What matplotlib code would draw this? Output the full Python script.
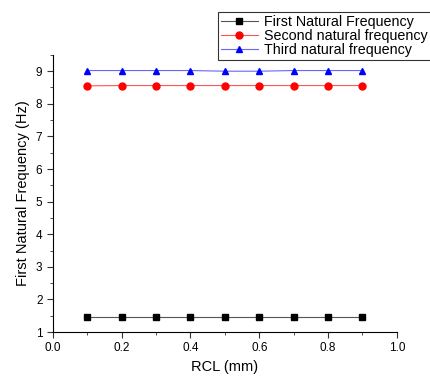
import numpy as np
import matplotlib.pyplot as plt
from matplotlib.ticker import MultipleLocator

plt.rcParams['font.family'] = ['Liberation Sans', 'DejaVu Sans']

rcl = [0.1, 0.2, 0.3, 0.4, 0.5, 0.6, 0.7, 0.8, 0.9]
first = [1.45, 1.45, 1.45, 1.45, 1.45, 1.45, 1.45, 1.45, 1.45]
second = [8.55, 8.56, 8.56, 8.56, 8.56, 8.56, 8.56, 8.56, 8.56]
third = [9.02, 9.02, 9.02, 9.02, 9.0, 9.0, 9.02, 9.02, 9.02]

fig = plt.figure(figsize=(4.3, 3.76), dpi=100)
ax = fig.add_axes([0.123, 0.117, 0.8, 0.737])

ax.plot(rcl, first, color='#555555', lw=0.8, marker='s', ms=4.5,
        mfc='black', mec='black', label='First Natural Frequency')
ax.plot(rcl, second, color='#ff5555', lw=0.8, marker='o', ms=5,
        mfc='red', mec='red', label='Second natural frequency')
ax.plot(rcl, third, color='#6666ff', lw=0.8, marker='^', ms=5,
        mfc='blue', mec='blue', label='Third natural frequency')

ax.set_xlim(0, 1.0)
ax.set_ylim(1, 9.5)
ax.xaxis.set_major_locator(MultipleLocator(0.2))
ax.xaxis.set_minor_locator(MultipleLocator(0.1))
ax.yaxis.set_major_locator(MultipleLocator(1))
ax.yaxis.set_minor_locator(MultipleLocator(0.5))
ax.set_xticks([0.0, 0.2, 0.4, 0.6, 0.8, 1.0])
ax.set_xticklabels(['0.0', '0.2', '0.4', '0.6', '0.8', '1.0'])

for s in ['top', 'right']:
    ax.spines[s].set_visible(False)
ax.tick_params(which='major', direction='out', length=4, labelsize=8.5, color='#333333')
ax.tick_params(which='minor', direction='out', length=2.5, color='#333333')

ax.set_xlabel('RCL (mm)', fontsize=10.5)
ax.set_ylabel('First Natural Frequency (Hz)', fontsize=10.5)

leg = fig.legend(loc='upper left', bbox_to_anchor=(218 / 430, 1 - 12 / 376),
                 fontsize=10.3, frameon=True, fancybox=False, edgecolor='black',
                 borderaxespad=0, handlelength=2.6, labelspacing=0.02,
                 borderpad=0.2, handletextpad=0.45)
leg.get_frame().set_linewidth(0.8)

fig.savefig('out.png', dpi=100)
